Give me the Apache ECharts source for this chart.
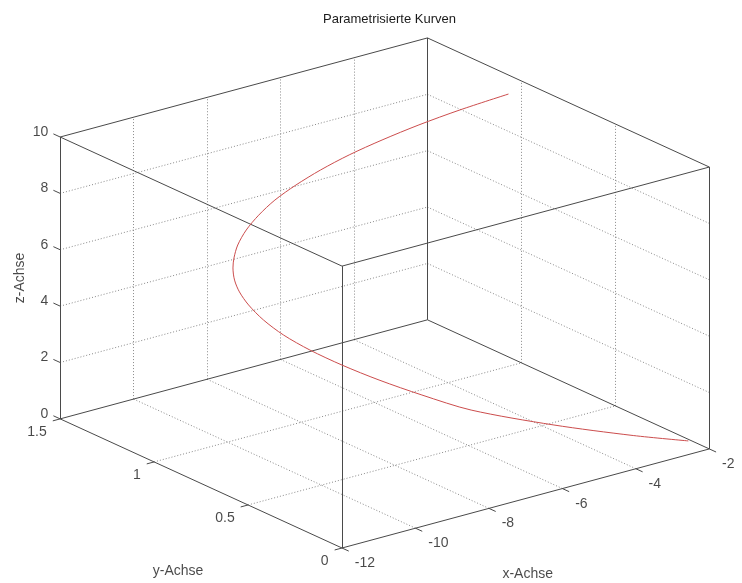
<!DOCTYPE html>
<html>
<head>
<meta charset="utf-8">
<title>Parametrisierte Kurven</title>
<script src="https://cdn.jsdelivr.net/npm/echarts@6/dist/echarts.min.js"></script>
<style>
  html, body { margin: 0; padding: 0; background: #fff; }
  #app { width: 742px; height: 583px; }
</style>
</head>
<body>
<div id="app"></div>
<script>
// axis limits and ticks
var xRange = [-12, -2];
var yRange = [0, 1.5];
var zRange = [0, 10];
var xTicks = [-12, -10, -8, -6, -4, -2];
var yTicks = [0, 0.5, 1, 1.5];
var zTicks = [0, 2, 4, 6, 8, 10];
var yTickLabels = ['0', '0.5', '1', '1.5'];

// curve samples (bottom end -> top end)
var curveX = [-2.06, -3.34, -5.18, -7.01, -8.05, -8.93, -9.67, -10.29, -10.77, -11.10, -11.30, -11.38, -11.37,
    -11.28, -11.15, -10.92, -10.55, -10.09, -9.53, -8.86, -8.10, -7.24, -6.28, -5.22, -4.06, -2.71];
var curveY = [0.100, 0.143, 0.210, 0.288, 0.347, 0.403, 0.455, 0.505, 0.552, 0.594, 0.634, 0.667, 0.695,
    0.721, 0.741, 0.766, 0.793, 0.817, 0.840, 0.859, 0.877, 0.892, 0.905, 0.916, 0.924, 0.930];
var curveZ = [0.00, 0.51, 1.33, 2.26, 2.98, 3.65, 4.28, 4.88, 5.44, 5.96, 6.44, 6.83, 7.16,
    7.48, 7.73, 8.03, 8.35, 8.64, 8.91, 9.15, 9.36, 9.55, 9.70, 9.83, 9.93, 10.00];

void function () {
    // view like matlab's default, figure squashed vertically
    var AZ = 37.5 * Math.PI / 180;
    var EL = 30 * Math.PI / 180;
    var BOX = 463;
    var SQUASH = 0.703;
    var TICK_X = 0.2, TICK_Y = 0.036;
    var FONT = '"Liberation Sans", Arial, Helvetica, sans-serif';
    var TEXT = '#1a1a1a';

    var proj = function (x, y, z) {
        var X = (x - xRange[0]) / (xRange[1] - xRange[0]);
        var Y = (y - yRange[0]) / (yRange[1] - yRange[0]);
        var Z = (z - zRange[0]) / (zRange[1] - zRange[0]);
        var u = BOX * (X * Math.cos(AZ) - Y * Math.sin(AZ));
        var v = SQUASH * BOX * ((X * Math.sin(AZ) + Y * Math.cos(AZ)) * Math.sin(EL) + Z * Math.cos(EL));
        return [u, v];
    };
    var seg = function (a, b) {
        return { coords: [proj(a[0], a[1], a[2]), proj(b[0], b[1], b[2])] };
    };
    var inner = function (arr) { return arr.slice(1, arr.length - 1); };

    var x0 = xRange[0], x1 = xRange[1], y0 = yRange[0], y1 = yRange[1], z0 = zRange[0], z1 = zRange[1];

    // box edges
    var edges = [];
    [y0, y1].forEach(function (y) {
        [z0, z1].forEach(function (z) { edges.push(seg([x0, y, z], [x1, y, z])); });
    });
    [x0, x1].forEach(function (x) {
        [z0, z1].forEach(function (z) { edges.push(seg([x, y0, z], [x, y1, z])); });
    });
    [x0, x1].forEach(function (x) {
        [y0, y1].forEach(function (y) { edges.push(seg([x, y, z0], [x, y, z1])); });
    });

    // dotted grid on floor and the two back walls
    var grid = [];
    inner(xTicks).forEach(function (xt) {
        grid.push(seg([xt, y0, z0], [xt, y1, z0]));
        grid.push(seg([xt, y1, z0], [xt, y1, z1]));
    });
    inner(yTicks).forEach(function (yt) {
        grid.push(seg([x0, yt, z0], [x1, yt, z0]));
        grid.push(seg([x1, yt, z0], [x1, yt, z1]));
    });
    inner(zTicks).forEach(function (zt) {
        grid.push(seg([x0, y1, zt], [x1, y1, zt]));
        grid.push(seg([x1, y0, zt], [x1, y1, zt]));
    });

    // tick marks and labels
    var ticks = [];
    var labels = [];
    var addLabel = function (text, p, dx, dy, align) {
        labels.push({
            name: text,
            value: [p[0] + dx, p[1] - dy],
            label: { align: align }
        });
    };
    zTicks.forEach(function (zt) {
        ticks.push(seg([x0, y1, zt], [x0, y1 + TICK_Y, zt]));
        addLabel(String(zt), proj(x0, y1 + TICK_Y, zt), -5, -2, 'right');
    });
    yTicks.forEach(function (yt, i) {
        ticks.push(seg([x0, yt, z0], [x0 - TICK_X, yt, z0]));
        addLabel(yTickLabels[i], proj(x0 - TICK_X, yt, z0), -6, 11, 'right');
    });
    xTicks.forEach(function (xt) {
        ticks.push(seg([xt, y0, z0], [xt, y0 - TICK_Y, z0]));
        addLabel(String(xt), proj(xt, y0 - TICK_Y, z0), 6, 12, 'left');
    });

    var pMidX = proj((x0 + x1) / 2, y0, z0);
    var pMidY = proj(x0, (y0 + y1) / 2, z0);
    var pMidZ = proj(x0, y1, (z0 + z1) / 2);
    var axisNames = [
        { name: 'x-Achse', value: [pMidX[0] + 2, pMidX[1] - 76] },
        { name: 'y-Achse', value: [pMidY[0] - 23, pMidY[1] - 88] },
        { name: 'z-Achse', value: [pMidZ[0] - 40, pMidZ[1]], label: { rotate: 90 } }
    ];

    var curve = curveX.map(function (x, i) { return proj(x, curveY[i], curveZ[i]); });

    var chart = echarts.init(document.getElementById('app'), null, { renderer: 'canvas' });
    var option = {
        animation: false,
        silent: true,
        backgroundColor: '#ffffff',
        title: {
            text: 'Parametrisierte Kurven',
            left: 323,
            top: 13,
            padding: 0,
            textStyle: { fontFamily: FONT, fontSize: 13, fontWeight: 'normal', color: TEXT }
        },
        grid: { left: 0, right: 0, top: 0, bottom: 0 },
        xAxis: { type: 'value', min: -342, max: 400, show: false },
        yAxis: { type: 'value', min: -35, max: 548, show: false },
        series: [
            {
                type: 'lines',
                coordinateSystem: 'cartesian2d',
                data: grid,
                z: 1,
                lineStyle: { color: '#8a8a8a', width: 1, type: [1, 2], opacity: 1, curveness: 0 }
            },
            {
                type: 'lines',
                coordinateSystem: 'cartesian2d',
                data: edges.concat(ticks),
                z: 2,
                lineStyle: { color: '#4a4a4a', width: 1, type: 'solid', opacity: 1, curveness: 0 }
            },
            {
                type: 'line',
                data: curve,
                z: 3,
                smooth: 0.3,
                symbol: 'none',
                lineStyle: { color: '#cc4d4d', width: 1 }
            },
            {
                type: 'scatter',
                data: labels.concat(axisNames),
                symbolSize: 0,
                z: 4,
                label: {
                    show: true,
                    position: 'inside',
                    formatter: '{b}',
                    verticalAlign: 'middle',
                    fontFamily: FONT,
                    fontSize: 14,
                    color: TEXT
                }
            }
        ]
    };
    chart.setOption(option);
}();
</script>
</body>
</html>
